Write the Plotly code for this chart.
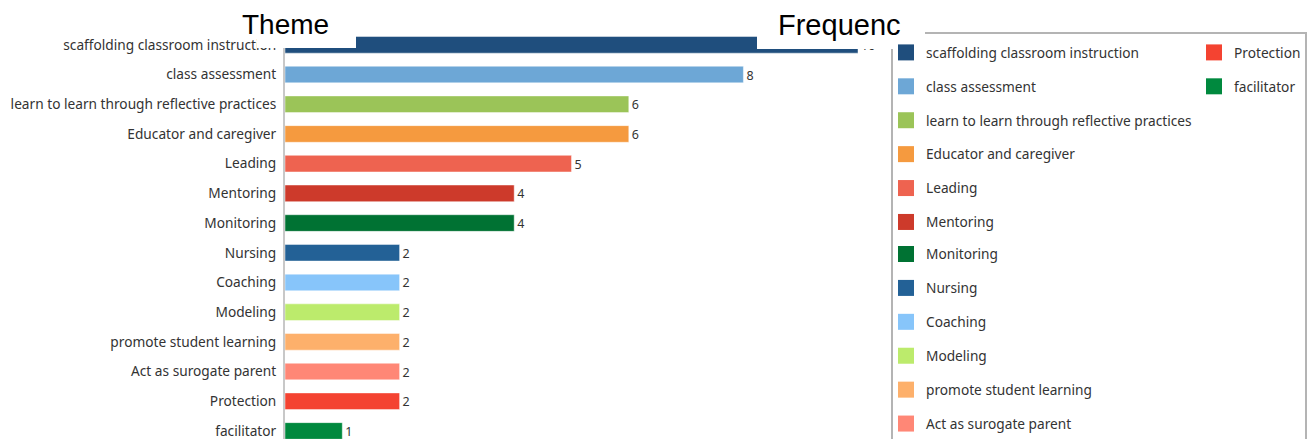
import plotly.graph_objects as go

themes = [
    "scaffolding classroom instruction",
    "class assessment",
    "learn to learn through reflective practices",
    "Educator and caregiver",
    "Leading",
    "Mentoring",
    "Monitoring",
    "Nursing",
    "Coaching",
    "Modeling",
    "promote student learning",
    "Act as surogate parent",
    "Protection",
    "facilitator",
]
frequency = [10, 8, 6, 6, 5, 4, 4, 2, 2, 2, 2, 2, 2, 1]
colors = [
    "#1F4E7D", "#6DA7D6", "#9BC458", "#F59A3F", "#EE6350", "#CD3A2B", "#007233",
    "#236196", "#87C5FA", "#BCEB6C", "#FDB06B", "#FF8776", "#F44331", "#00893E",
]

W, H = 1314, 439
L, R, T, B = 285, 429, 30, 0
PW, PH = W - L - R, H - T - B
PX_PER_UNIT = 57.3
ROW = 33.8  # legend row pitch in px


def px_x(p):
    return (p - L) / PW


def px_y(p):
    return 1 - (p - T) / PH


def legend_for(i):
    if i < 6:
        return "legend"
    if i < 12:
        return "legend3"
    return "legend2"


fig = go.Figure()
for i, (name, val, c) in enumerate(zip(themes, frequency, colors)):
    fig.add_trace(go.Bar(
        y=[name], x=[val], orientation="h",
        marker=dict(color=c, line=dict(color="rgba(255,255,255,0.45)", width=1)),
        text=[str(val)], textposition="outside", cliponaxis=False,
        textfont=dict(family="Noto Sans", size=15, color="#333333"),
        showlegend=False, hoverinfo="x+y",
    ))
for i, (name, c) in enumerate(zip(themes, colors)):
    fig.add_trace(go.Scatter(
        x=[None], y=[None], mode="markers", name=name,
        marker=dict(symbol="square", size=16, color=c),
        legend=legend_for(i),
        legendgroup=name,
    ))

legend_common = dict(
    font=dict(family="Noto Sans", size=13.7, color="#333333"),
    bgcolor="rgba(0,0,0,0)", borderwidth=0,
    orientation="v", xanchor="left", yanchor="top",
    tracegroupgap=13.1, itemclick=False, itemdoubleclick=False,
)

top0 = 37
fig.update_layout(
    width=W, height=H,
    margin=dict(l=L, r=R, t=T, b=B, pad=0, autoexpand=False),
    paper_bgcolor="white", plot_bgcolor="white",
    barmode="overlay", bargap=0.44,
    font=dict(family="Noto Sans", size=13.7, color="#333333"),
    xaxis=dict(range=[0, PW / PX_PER_UNIT], visible=False, showgrid=False, zeroline=False),
    yaxis=dict(
        categoryorder="array", categoryarray=themes,
        range=[-0.5 + (H - T) / 29.7, -0.5],
        showline=True, linecolor="#c8c8c8", linewidth=2,
        ticks="", ticklabelstandoff=4, showgrid=False, zeroline=False,
        tickfont=dict(family="Noto Sans", size=13.7, color="#333333"),
    ),
    legend=dict(x=px_x(886), y=px_y(top0), **legend_common),
    legend3=dict(x=px_x(886), y=px_y(top0 + 8.8 + 6 * ROW - 10), **legend_common),
    legend2=dict(x=px_x(1194), y=px_y(top0), **legend_common),
    showlegend=True,
)

shapes = [
    dict(type="rect", xref="paper", yref="paper",
         x0=px_x(892), x1=px_x(1306), y0=px_y(480), y1=px_y(33),
         line=dict(color="#b4b4b4", width=2), fillcolor="rgba(0,0,0,0)", layer="above"),
    dict(type="rect", xref="paper", yref="paper",
         x0=px_x(257), x1=px_x(356), y0=px_y(48), y1=px_y(0),
         line=dict(width=0), fillcolor="white", layer="above"),
    dict(type="rect", xref="paper", yref="paper",
         x0=px_x(757), x1=px_x(925), y0=px_y(49), y1=px_y(0),
         line=dict(width=0), fillcolor="white", layer="above"),
]
fig.update_layout(shapes=shapes)

fig.add_annotation(text="Theme", xref="paper", yref="paper", x=px_x(240), y=px_y(25),
                   xanchor="left", yanchor="middle", showarrow=False,
                   font=dict(family="Liberation Sans", size=28, color="black"))
fig.add_annotation(text="Frequenc", xref="paper", yref="paper", x=px_x(776), y=px_y(25),
                   xanchor="left", yanchor="middle", showarrow=False,
                   font=dict(family="Liberation Sans", size=29, color="black"))

fig.write_html("out.html")
